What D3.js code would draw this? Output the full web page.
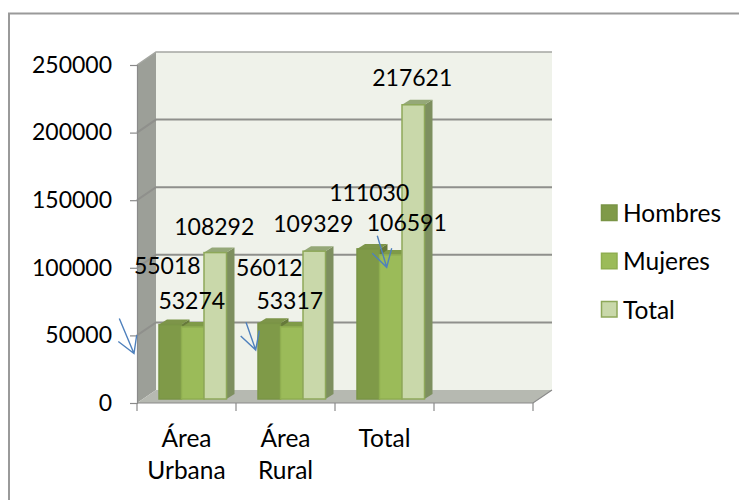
<!DOCTYPE html>
<html><head><meta charset="utf-8">
<script src="https://cdnjs.cloudflare.com/ajax/libs/d3/7.8.5/d3.min.js"></script>
<style>html,body{margin:0;padding:0;background:#fff}svg{display:block}text{font-family:Lato,"Open Sans",sans-serif;fill:#000}</style>
</head><body><svg id="c" width="739" height="500"></svg>
<script>
const categories = ["Área Urbana", "Área Rural", "Total", ""];
const seriesNames = ["Hombres", "Mujeres", "Total"];
const hombres = [55018, 56012, 111030];
const mujeres = [53274, 53317, 106591];
const totales = [108292, 109329, 217621];
const yTicks = [0, 50000, 100000, 150000, 200000, 250000];
const seriesValues = [hombres, mujeres, totales];
const frontFill = ["#7f9a48", "#9bbb59", "#c9d8aa"];
const frontStroke = ["#7a9446", "#8fae50", "#8ea85a"];
const sideFill = ["#66793a", "#7a9446", "#7d8f5f"];
const topFill = ["#7d9549", "#7f9a48", "#95a878"];
// hand-placed label offsets from each bar's centre/top: [series][category]
const labelDx = [[-3, 0, 1], [-1, -2, 16], [-1, -1, -1]];
const labelDy = [[-60, -56, -57], [-27, -27, -33], [-27, -28, -28]];

const DX = 19, DY = -13, BASE = -4;
const svg = d3.select("#c");
const y = d3.scaleLinear().domain([0, 250000]).range([403, 65]);
const x = d3.scaleBand().domain(categories).range([137, 533]);
const xs = d3.scaleBand().domain(d3.range(3)).range([22, 89.5]);
const fs = 23, fsText = 24.5;

svg.append("path").attr("fill", "none").attr("stroke", "#9a9a9a").attr("stroke-width", 2)
  .attr("d", "M9,500V13.5H739");

const x0 = x.range()[0], x1 = x.range()[1], yB = y(0), yT = y(250000);
// back wall
svg.append("rect").attr("x", x0 + DX).attr("y", yT + DY).attr("width", x1 - x0).attr("height", yB - yT).attr("fill", "#eff2ea");
// left wall
svg.append("polygon").attr("points", [[x0, yB], [x0 + DX, yB + DY], [x0 + DX, yT + DY], [x0, yT]].join(" ")).attr("fill", "#9c9f98");
// floor
svg.append("polygon").attr("points", [[x0, yB], [x1, yB], [x1 + DX, yB + DY], [x0 + DX, yB + DY]].join(" ")).attr("fill", "#b6b9b1");
// gridlines
yTicks.forEach(t => {
  if (t > 0 && t < 250000) svg.append("path").attr("fill", "none").attr("stroke", "#8f908c").attr("stroke-width", 2)
    .attr("d", `M${x0},${y(t)}L${x0 + DX},${y(t) + DY}H${x1 + DX}`);
});
svg.append("path").attr("fill", "none").attr("stroke", "#a5a7a2").attr("stroke-width", 1.5)
  .attr("d", `M${x0},${yT}L${x0 + DX},${yT + DY}H${x1 + DX}`);

// axes
const yAxis = svg.append("g").attr("transform", `translate(${x0},0)`)
  .call(d3.axisLeft(y).tickValues(yTicks).tickSize(7).tickPadding(18).tickFormat(d3.format("d")));
yAxis.select(".domain").attr("stroke", "#8a8a8a").attr("stroke-width", 1.2);
yAxis.selectAll("line").attr("stroke", "#8a8a8a").attr("stroke-width", 1.2);
yAxis.selectAll("text").attr("font-size", fs).attr("font-family", "Lato");

const xTickPos = categories.map(c => x(c)).concat([x1]);
svg.append("path").attr("fill", "none").attr("stroke", "#8a8a8a").attr("stroke-width", 1.2)
  .attr("d", `M${x0},${yB}H${x1}L${x1 + DX},${yB + DY}`);
svg.selectAll(".xt").data(xTickPos).join("line").attr("class", "xt")
  .attr("x1", d => d).attr("x2", d => d).attr("y1", yB).attr("y2", yB + 8)
  .attr("stroke", "#8a8a8a").attr("stroke-width", 1.2);

// category labels
categories.forEach(c => {
  c.split(" ").forEach((p, i) => {
    svg.append("text").attr("x", x(c) + x.bandwidth() / 2).attr("y", 447 + i * 32)
      .attr("text-anchor", "middle").attr("font-size", fsText).text(p);
  });
});

// bars
const D = 8, DV = -5;
const bars = [];
seriesValues.forEach((vals, s) => vals.forEach((v, i) => bars.push({ s, i, v })));
bars.sort((a, b) => a.i - b.i || a.s - b.s);
const bar = svg.selectAll(".bar").data(bars).join("g").attr("class", "bar");
const bx = d => x(categories[d.i]) + xs(d.s);
const by = d => y(d.v) + BASE;
const bw = xs.bandwidth();
const yZero = y(0) + BASE;
bar.append("polygon").attr("fill", d => sideFill[d.s])
  .attr("points", d => [[bx(d) + bw, by(d)], [bx(d) + bw + D, by(d) + DV], [bx(d) + bw + D, yZero + DV], [bx(d) + bw, yZero]].join(" "));
bar.append("polygon").attr("fill", d => topFill[d.s])
  .attr("points", d => [[bx(d), by(d)], [bx(d) + D, by(d) + DV], [bx(d) + bw + D, by(d) + DV], [bx(d) + bw, by(d)]].join(" "));
bar.append("rect").attr("x", d => bx(d)).attr("y", d => by(d)).attr("width", bw).attr("height", d => yZero - by(d))
  .attr("fill", d => frontFill[d.s]).attr("stroke", d => frontStroke[d.s]).attr("stroke-width", 1.5);

// value labels
svg.selectAll(".vl").data(bars).join("text").attr("class", "vl")
  .attr("x", d => bx(d) + bw / 2 + labelDx[d.s][d.i])
  .attr("y", d => by(d) + labelDy[d.s][d.i])
  .attr("text-anchor", "middle").attr("dominant-baseline", "central").attr("font-size", fs)
  .text(d => d.v);

// annotation arrows
const arrow = (tx, ty, tail, b1, b2) => svg.append("path").attr("fill", "none").attr("stroke", "#4f81bd").attr("stroke-width", 1.4)
  .attr("d", `M${tx + tail[0]},${ty + tail[1]}L${tx},${ty}M${tx + b1[0]},${ty + b1[1]}L${tx},${ty}L${tx + b2[0]},${ty + b2[1]}`);
arrow(134, 353.5, [-14.7, -35], [-15.7, -12], [2.7, -18.5]);
arrow(255.7, 350, [-9.7, -27.7], [-15, -14], [3.6, -19.3]);
arrow(386.7, 267.3, [-9.4, -31.6], [-14.4, -14], [5, -19]);

// legend
const ly = d3.scalePoint().domain(seriesNames.map((n, i) => i)).range([212.5, 309]);
const leg = svg.selectAll(".lg").data(seriesNames).join("g").attr("class", "lg")
  .attr("transform", (d, i) => `translate(601,${ly(i)})`);
leg.append("rect").attr("x", 0.5).attr("y", -7.5).attr("width", 15.5).attr("height", 15.5)
  .attr("fill", (d, i) => frontFill[i]).attr("stroke", (d, i) => frontStroke[i]).attr("stroke-width", 1.5);
leg.append("text").attr("x", 22).attr("dominant-baseline", "central").attr("font-size", fsText).text(d => d);
</script></body></html>
